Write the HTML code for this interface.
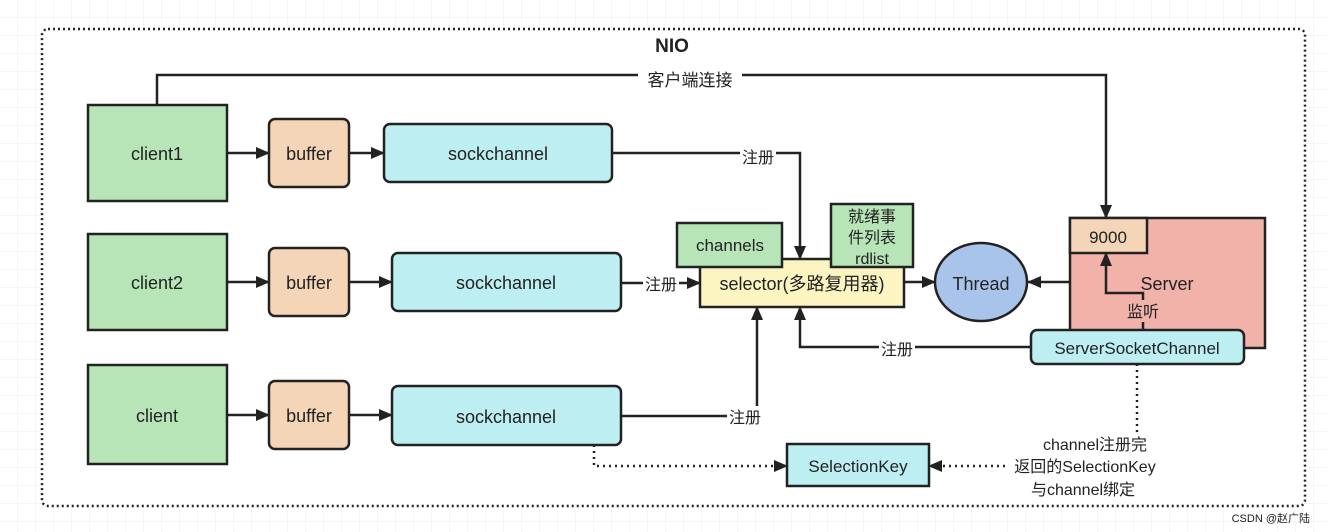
<!DOCTYPE html>
<html><head><meta charset="utf-8"><style>
html,body{margin:0;padding:0;background:#fff;}
svg{display:block;}
text{font-family:"Liberation Sans","Noto Sans CJK SC",sans-serif;fill:#222;}
</style></head><body>
<svg width="1328" height="532" viewBox="0 0 1328 532" xmlns="http://www.w3.org/2000/svg">
<defs>
<pattern id="g" width="18" height="18" patternUnits="userSpaceOnUse"><path d="M18 0V18H0" fill="none" stroke="#ececec" stroke-width="1"/></pattern>
<marker id="a" markerWidth="14" markerHeight="14" refX="13" refY="7" orient="auto" markerUnits="userSpaceOnUse"><path d="M0,1 L14,7 L0,13 z" fill="#222"/></marker>
</defs>
<rect width="1328" height="532" fill="url(#g)"/>
<rect x="42" y="29" width="1263" height="477" rx="6" fill="#fff" stroke="#222" stroke-width="2.5" stroke-dasharray="2,3"/>
<text x="672" y="52" font-size="19" font-weight="bold" text-anchor="middle">NIO</text>
<g fill="none" stroke="#222" stroke-width="2.5">
<path d="M157 105V75H1106V218" marker-end="url(#a)"/>
<path d="M227 153H269" marker-end="url(#a)"/><path d="M349 153H384" marker-end="url(#a)"/>
<path d="M227 282H269" marker-end="url(#a)"/><path d="M349 282H392" marker-end="url(#a)"/>
<path d="M227 415H269" marker-end="url(#a)"/><path d="M349 415H392" marker-end="url(#a)"/>
<path d="M612 153H800V259" marker-end="url(#a)"/>
<path d="M621 283H700" marker-end="url(#a)"/>
<path d="M621 416H757V307" marker-end="url(#a)"/>
<path d="M1031 347H800V307" marker-end="url(#a)"/>
<path d="M594 445V466H787" stroke-dasharray="2,4" marker-end="url(#a)"/>
<path d="M1005 466H929" stroke-dasharray="2,4" marker-end="url(#a)"/>
<path d="M1137 364V432" stroke-dasharray="2,4"/>
</g>
<g stroke="#222" stroke-width="2.5">
<rect x="88" y="105" width="139" height="96" fill="#b7e5b8"/>
<rect x="88" y="234" width="139" height="96" fill="#b7e5b8"/>
<rect x="88" y="365" width="139" height="99" fill="#b7e5b8"/>
<rect x="269" y="119" width="80" height="68" rx="6" fill="#f4d5b8"/>
<rect x="269" y="248" width="80" height="68" rx="6" fill="#f4d5b8"/>
<rect x="269" y="381" width="80" height="68" rx="6" fill="#f4d5b8"/>
<rect x="384" y="124" width="228" height="58" rx="6" fill="#bdeef2"/>
<rect x="392" y="253" width="229" height="58" rx="6" fill="#bdeef2"/>
<rect x="392" y="386" width="229" height="59" rx="6" fill="#bdeef2"/>
<rect x="1070" y="218" width="195" height="130" fill="#f1b2aa"/>
<rect x="1070" y="218" width="77" height="35" fill="#f4d5b8"/>
<rect x="700" y="259" width="204" height="48" fill="#fcf5c2"/>
<rect x="677" y="223" width="105" height="44" fill="#b7e5b8"/>
<rect x="831" y="204" width="82" height="63" fill="#b7e5b8"/>
<ellipse cx="981" cy="282" rx="46" ry="39" fill="#a9c4ea"/>
<rect x="1031" y="330" width="213" height="34" rx="6" fill="#bdeef2"/>
<rect x="787" y="444" width="142" height="42" fill="#bdeef2"/>
</g>
<g fill="none" stroke="#222" stroke-width="2.5">
<path d="M904 282H935" marker-end="url(#a)"/>
<path d="M1070 282H1028" marker-end="url(#a)"/>
<path d="M1143 330V293H1106V253" marker-end="url(#a)"/>
</g>
<g font-size="18" text-anchor="middle">
<rect x="638" y="70" width="104" height="20" fill="#fff"/>
<text x="690" y="86" font-size="17">客户端连接</text>
<text x="157" y="160">client1</text><text x="157" y="289">client2</text><text x="157" y="422">client</text>
<text x="309" y="160">buffer</text><text x="309" y="289">buffer</text><text x="309" y="422">buffer</text>
<text x="498" y="160">sockchannel</text><text x="506" y="289">sockchannel</text><text x="506" y="423">sockchannel</text>
<rect x="740" y="146" width="36" height="20" fill="#fff"/><text x="758" y="163" font-size="16">注册</text>
<rect x="643" y="273" width="36" height="20" fill="#fff"/><text x="661" y="290" font-size="16">注册</text>
<rect x="727" y="406" width="36" height="20" fill="#fff"/><text x="745" y="423" font-size="16">注册</text>
<rect x="879" y="338" width="36" height="20" fill="#fff"/><text x="897" y="355" font-size="16">注册</text>
<text x="730" y="251" font-size="17">channels</text>
<text x="872" y="222" font-size="16">就绪事</text><text x="872" y="243" font-size="16">件列表</text><text x="872" y="264" font-size="16">rdlist</text>
<text x="802" y="290">selector(多路复用器)</text>
<text x="981" y="290">Thread</text>
<text x="1108" y="243" font-size="17">9000</text>
<text x="1167" y="290">Server</text>
<rect x="1124" y="300" width="40" height="22" fill="#f1b2aa"/><text x="1143" y="317" font-size="16">监听</text>
<text x="1137" y="354" font-size="17">ServerSocketChannel</text>
<text x="858" y="472" font-size="17">SelectionKey</text>
<text x="1095" y="450" font-size="16">channel注册完</text>
<text x="1085" y="472" font-size="16">返回的SelectionKey</text>
<text x="1083" y="495" font-size="16">与channel绑定</text>
</g>
<text x="1310" y="522" font-size="11" text-anchor="end" fill="#666">CSDN @赵广陆</text>
</svg>
</body></html>
